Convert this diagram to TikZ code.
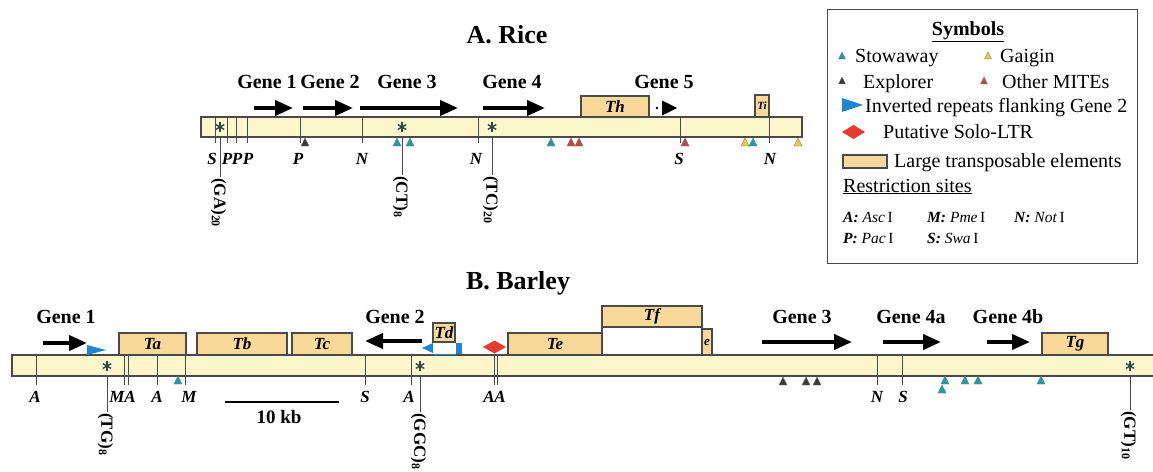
\documentclass[tikz,border=0pt]{standalone}
\usepackage{fontspec}
\setmainfont{Liberation Serif}
\usetikzlibrary{arrows.meta,shapes.geometric}

\definecolor{barfill}{HTML}{FBF6CB}
\definecolor{tefill}{HTML}{F8D99A}
\definecolor{edge}{HTML}{4A4A4A}
\definecolor{stow}{HTML}{1B9EA6}
\definecolor{expl}{HTML}{3A3A3A}
\definecolor{gaig}{HTML}{E6CF3C}
\definecolor{mite}{HTML}{C4444C}
\definecolor{irblue}{HTML}{1C86D4}
\definecolor{ltr}{HTML}{E43B2E}
\definecolor{astcol}{HTML}{2E4A48}

\tikzset{
  chrom/.style={draw=edge, line width=1.2pt, fill=barfill, inner sep=0pt, outer sep=0pt},
  tebox/.style={draw=edge, line width=1.2pt, fill=tefill, inner sep=0pt, outer sep=0pt,
    font=\fontsize{17}{17}\selectfont\bfseries\itshape},
  site/.style={draw=edge, line width=1pt},
  sitelbl/.style={font=\fontsize{17}{17}\selectfont\bfseries\itshape, anchor=base, inner sep=0pt},
  genelbl/.style={font=\fontsize{20}{20}\selectfont\bfseries, anchor=base, inner sep=0pt},
  genearrow/.style={line width=4pt, -{Triangle[length=18pt,width=15pt]}},
  ssr/.style={font=\fontsize{17}{17}\selectfont\bfseries, rotate=-90, anchor=base west, inner sep=1pt},
  title/.style={font=\fontsize{26}{26}\selectfont\bfseries, anchor=base, inner sep=0pt},
  leg/.style={font=\fontsize{20}{20}\selectfont, anchor=base west, inner sep=0pt},
  legsmall/.style={font=\fontsize{15.5}{16}\selectfont, anchor=base west, inner sep=0pt},
  mtri/.pic={\path[pic actions, draw=black!55, line width=0.4pt] (-4,8) -- (4,8) -- (0,0) -- cycle;},
  ast/.pic={\foreach \a in {30,90,150}{\draw[astcol, line width=1.4pt] (\a:4.8) -- (\a+180:4.8);}}
}

\begin{document}
\begin{tikzpicture}[x=1pt, y=-1pt]
\useasboundingbox[fill=white] (0,0) rectangle (1153,471);

% ---------------- A. Rice ----------------
\node[title] (titleA) at (507,43) {A. Rice};

\node[chrom, minimum width=601pt, minimum height=20pt, anchor=north west] (riceBar) at (201,117) {};

% transposable elements
\node[tebox, minimum width=68pt, minimum height=21pt, anchor=south west] (th) at (581,117) {Th};
\node[tebox, minimum width=14pt, minimum height=22pt, anchor=south west,
      font=\fontsize{11}{11}\selectfont\bfseries\itshape] (ti) at (755,117) {\raisebox{-5pt}{Ti}};

% genes
\node[genelbl] (rg1) at (267,88) {Gene 1};
\node[genelbl] (rg2) at (330,88) {Gene 2};
\node[genelbl] (rg3) at (407,88) {Gene 3};
\node[genelbl] (rg4) at (512,88) {Gene 4};
\node[genelbl] (rg5) at (664,88) {Gene 5};
\draw[genearrow] (254,108) -- (293,108);
\draw[genearrow] (303,108) -- (353,108);
\draw[genearrow] (360,108) -- (458,108);
\draw[genearrow] (483,108) -- (545,108);
\fill (657,108) circle (1.3);
\fill (662,100.5) -- (677,108) -- (662,115.5) -- cycle;

% restriction sites
\foreach \x in {215,227,236,247,300,362,478,680}
  \draw[site] (\x,117) -- (\x,143);
\draw[site] (ti.north east) ++(0,0) -- (769,143);
\foreach \x/\t [count=\i] in {212/S,227/P,237/P,248/P,298/P,362/N,476/N,679/S,770/N}
  \node[sitelbl] (rs\i) at (\x,164) {\t};

% microsatellites
\foreach \x/\t/\y/\n in {220/{(GA)\textsubscript{20}}/177/ga, 402/{(CT)\textsubscript{8}}/175/ct, 492/{(TC)\textsubscript{20}}/175/tc}{
  \pic at (\x,127) {ast};
  \coordinate (\n Top) at (\x,137);
  \node[ssr] (\n Lbl) at (\x-5.6,\y) {\t};
  \draw[site] (\n Top) -- (\n Top |- \n Lbl.west);
}

% MITEs
\foreach \x/\c in {305/expl,397/stow,410/stow,551/stow,571/mite,579/mite,685/mite,745/gaig,753/stow,798/gaig}
  \pic[fill=\c] at (\x,138) {mtri};

% ---------------- B. Barley ----------------
\node[title] (titleB) at (518,289) {B. Barley};

\node[chrom, minimum width=1160pt, minimum height=21pt, anchor=north west] (barleyBar) at (12,355) {};

% transposable elements
\node[tebox, minimum width=67pt, minimum height=22pt, anchor=south west] (ta) at (119,355) {Ta};
\node[tebox, minimum width=90pt, minimum height=22pt, anchor=south west] (tb) at (197,355) {Tb};
\node[tebox, minimum width=60pt, minimum height=22pt, anchor=south west] (tc) at (292,355) {Tc};
\node[tebox, minimum width=22pt, minimum height=19pt, anchor=north west] (td) at (433,323) {Td};
\node[tebox, minimum width=94pt, minimum height=22pt, anchor=south west] (te) at (508,355) {Te};
\node[tebox, minimum width=100pt, minimum height=21pt, anchor=north west] (tf) at (602,306) {Tf};
\node[tebox, minimum width=10pt, minimum height=26pt, anchor=south west,
      font=\fontsize{13}{13}\selectfont\bfseries\itshape] (te2) at (702,355) {\raisebox{-8pt}{e}};
\node[tebox, minimum width=66pt, minimum height=22pt, anchor=south west] (tg) at (1042,355) {Tg};
\draw[edge, line width=1.2pt] (te.north east) -- (tf.south west);

% inverted repeats and solo-LTR
\fill[irblue] (87,345) -- (106,350) -- (87,355) -- cycle;
\fill[irblue] (433,343) -- (422,348) -- (433,353) -- cycle;
\fill[irblue] (456,343) rectangle (462,354);
\draw[irblue, line width=1pt] (433,354) -- (456,354);
\fill[ltr] (483,347) -- (494.5,340.5) -- (506,347) -- (494.5,353.5) -- cycle;

% genes
\node[genelbl] (bg1) at (66,323) {Gene 1};
\node[genelbl] (bg2) at (395,323) {Gene 2};
\node[genelbl] (bg3) at (802,323) {Gene 3};
\node[genelbl] (bg4a) at (911,323) {Gene 4a};
\node[genelbl] (bg4b) at (1008,323) {Gene 4b};
\draw[genearrow] (43,343) -- (87,343);
\draw[genearrow] (422,341) -- (365,341);
\draw[genearrow] (762,342) -- (852,342);
\draw[genearrow] (883,342) -- (941,342);
\draw[genearrow] (987,342) -- (1030,342);

% restriction sites
\foreach \x in {36,124,128,157,185,365,411,494,497,877,902}
  \draw[site] (\x,355) -- (\x,385);
\foreach \x/\t [count=\i] in {35/A,117/M,130/A,157/A,189/M,365/S,409/A,489/A,500/A,877/N,903/S}
  \node[sitelbl] (bs\i) at (\x,402) {\t};

% microsatellites
\foreach \x/\t/\y/\n in {107/{(TG)\textsubscript{8}}/412/tg, 420/{(GGC)\textsubscript{8}}/412/ggc, 1130/{(GT)\textsubscript{10}}/410/gt}{
  \pic at (\x,366) {ast};
  \coordinate (\n Top) at (\x,376);
  \node[ssr] (\n Lbl) at (\x-5.6,\y) {\t};
  \draw[site] (\n Top) -- (\n Top |- \n Lbl.west);
}

% MITEs
\foreach \x/\y/\c in {178/376/stow,783/377/expl,806/377/expl,817/377/expl,945/376/stow,942/385/stow,965/376/stow,978/376/stow,1041/376/stow}
  \pic[fill=\c] at (\x,\y) {mtri};

% scale bar
\coordinate (sbL) at (225,402);
\coordinate (sbR) at (339,402);
\draw[line width=2.5pt] (sbL) -- (sbR);
\node[genelbl, font=\fontsize{19}{19}\selectfont\bfseries] (sbLbl) at (279,423) {10 kb};

% ---------------- Legend ----------------
\node[draw=edge, line width=1.2pt, minimum width=310pt, minimum height=254pt, anchor=north west, inner sep=0pt] (legend) at (827,9) {};
\node[leg, anchor=base, font=\fontsize{20}{20}\selectfont\bfseries] (lgHead) at (968,35) {\underline{Symbols}};

\pic[fill=stow, scale=0.85] at (842,52) {mtri};
\node[leg] (lgStow) at (855,62) {Stowaway};
\pic[fill=gaig, scale=0.85] at (988,52) {mtri};
\node[leg] (lgGaig) at (1000,62) {Gaigin};
\pic[fill=expl, scale=0.85] at (842,77) {mtri};
\node[leg] (lgExpl) at (863,88) {Explorer};
\pic[fill=mite, scale=0.85] at (984,77) {mtri};
\node[leg] (lgMite) at (1002,88) {Other MITEs};

\fill[irblue] (842,98) -- (863,105) -- (842,112) -- cycle;
\node[leg] (lgIR) at (865,112) {Inverted repeats flanking Gene 2};
\fill[ltr] (842,132) -- (853.5,125) -- (865,132) -- (853.5,139) -- cycle;
\node[leg] (lgLTR) at (883,138) {Putative Solo-LTR};
\node[tebox, minimum width=44pt, minimum height=13pt, anchor=north west] (lgTE) at (843,155) {};
\node[leg] (lgTEtxt) at (894,167) {Large transposable elements};
\node[leg] (lgRS) at (843,192) {\underline{Restriction sites}};

\node[legsmall] (lgA) at (843,222) {\textbf{\textit{A:}} \textit{Asc}\,I};
\node[legsmall] (lgM) at (927,222) {\textbf{\textit{M:}} \textit{Pme}\,I};
\node[legsmall] (lgN) at (1014,222) {\textbf{\textit{N:}} \textit{Not}\,I};
\node[legsmall] (lgP) at (843,243) {\textbf{\textit{P:}} \textit{Pac}\,I};
\node[legsmall] (lgS) at (927,243) {\textbf{\textit{S:}} \textit{Swa}\,I};

\end{tikzpicture}
\end{document}
